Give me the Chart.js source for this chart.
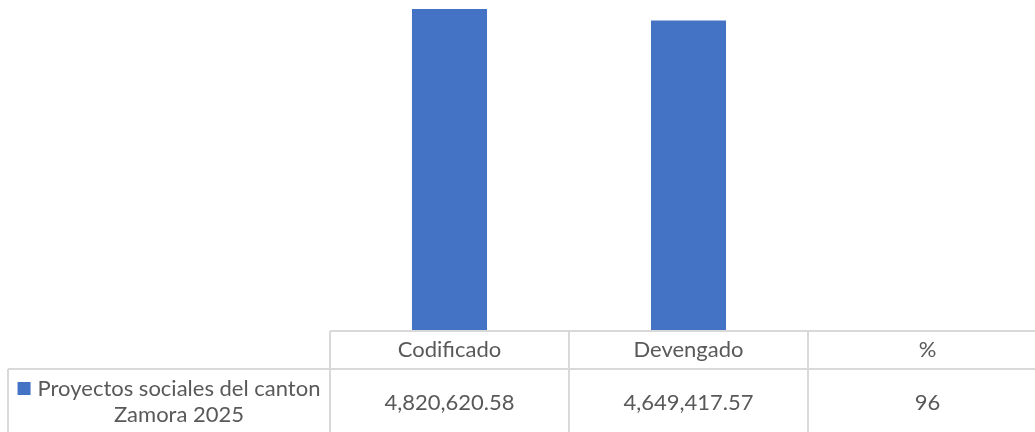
<!DOCTYPE html>
<html>
<head>
<meta charset="utf-8">
<script src="https://cdn.jsdelivr.net/npm/chart.js@4.4.0/dist/chart.umd.min.js"></script>
<style>
  html, body { margin: 0; padding: 0; background: #fff; overflow: hidden; }
  #wrap { width: 1048px; height: 432px; }
</style>
</head>
<body>
<div id="wrap"><canvas id="chart" width="1048" height="432"></canvas></div>
<script>
const categories = ['Codificado', 'Devengado', '%'];
const seriesName = ['Proyectos sociales del canton', 'Zamora 2025'];
const seriesValues = [4820620.58, 4649417.57, 96];
const tableLabels = ['4,820,620.58', '4,649,417.57', '96'];

const textColor = '#595959';
const lineColor = '#d9d9d9';
const barColor = '#4472C4';
const font = '22px Lato';

// draws the Excel-style data table under the plot
const dataTable = {
    id: 'dataTable',
    afterDraw(chart) {
        const ctx = chart.ctx;
        const x = chart.scales.x;
        const top = chart.chartArea.bottom;
        const headerBottom = top + 38;
        const bottom = chart.height + 5;
        const band = (x.right - x.left) / categories.length;
        const legendLeft = 8;

        ctx.save();
        ctx.strokeStyle = lineColor;
        ctx.lineWidth = 2;
        ctx.beginPath();
        ctx.moveTo(x.left, top); ctx.lineTo(x.right, top);
        ctx.moveTo(legendLeft, headerBottom); ctx.lineTo(x.right, headerBottom);
        ctx.moveTo(legendLeft, headerBottom); ctx.lineTo(legendLeft, bottom);
        for (let i = 0; i <= categories.length; i++) {
            const px = x.left + i * band;
            ctx.moveTo(px, top); ctx.lineTo(px, bottom);
        }
        ctx.stroke();

        ctx.fillStyle = textColor;
        ctx.font = font;
        ctx.textAlign = 'center';
        ctx.textBaseline = 'middle';
        categories.forEach((c, i) => {
            const cx = x.getPixelForValue(i);
            ctx.fillText(c, cx, top + 19);
            ctx.fillText(tableLabels[i], cx, headerBottom + 34);
        });

        // legend cell
        const legendCenter = (legendLeft + x.left) / 2;
        ctx.fillText(seriesName[0], legendCenter + 10, headerBottom + 20);
        ctx.fillText(seriesName[1], legendCenter + 10, headerBottom + 46);
        const w = ctx.measureText(seriesName[0]).width;
        ctx.fillStyle = barColor;
        ctx.fillRect(legendCenter + 10 - w / 2 - 20, headerBottom + 13, 13, 13);
        ctx.restore();
    }
};

new Chart(document.getElementById('chart'), {
    type: 'bar',
    data: {
        labels: categories,
        datasets: [{
            label: seriesName.join(' '),
            data: seriesValues,
            backgroundColor: barColor,
            categoryPercentage: 1,
            barPercentage: 0.314
        }]
    },
    options: {
        responsive: false,
        animation: false,
        layout: { padding: { left: 330, right: 1, top: 0, bottom: 101 } },
        plugins: { legend: { display: false }, tooltip: { enabled: false } },
        scales: {
            x: { display: false, offset: true },
            y: { display: false, min: 0, max: 4955000 }
        }
    },
    plugins: [dataTable]
});
</script>
</body>
</html>
